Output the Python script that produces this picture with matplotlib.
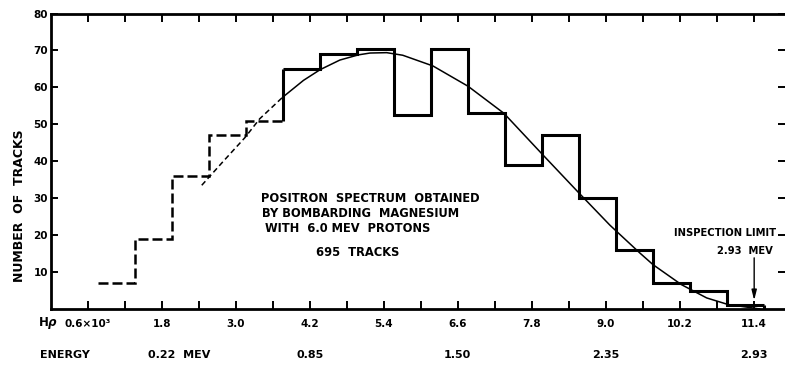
import matplotlib
matplotlib.use('Agg')
import matplotlib.pyplot as plt

# histogram of positron tracks, bins in H-rho (units of 10^3 gauss-cm)
bin_edges = [0.77, 1.37, 1.97, 2.57, 3.17, 3.77, 4.37, 4.97, 5.57, 6.17,
             6.77, 7.37, 7.97, 8.57, 9.17, 9.77, 10.37, 10.97, 11.57]
counts = [7, 19, 36, 47, 51, 65, 69, 70.5, 52.5, 70.5,
          53, 39, 47, 30, 16, 7, 5, 1.1]
n_dashed = 5  # first bins drawn dashed

# fitted curve
curve_dash_x = [2.45, 2.8, 3.15, 3.39, 3.76]
curve_dash_y = [33.5, 40.0, 46.4, 51.5, 57.3]
curve_x = [3.76, 4.1, 4.37, 4.69, 4.99, 5.18, 5.45, 5.71, 6.2, 6.77, 7.35,
           7.99, 8.58, 9.07, 9.56, 9.77, 10.23, 10.64, 10.99, 11.34, 11.5]
curve_y = [57.3, 61.9, 64.8, 67.4, 68.8, 69.3, 69.4, 68.7, 65.8, 60.3, 53.0,
           41.6, 31.2, 22.7, 15.1, 12.0, 6.6, 3.0, 1.2, 0.4, 0.0]

hr_ticks = [0.6, 1.2, 1.8, 2.4, 3.0, 3.6, 4.2, 4.8, 5.4, 6.0, 6.6, 7.2,
            7.8, 8.4, 9.0, 9.6, 10.2, 10.8, 11.4]
hr_labels = ['0.6×10³', '', '1.8', '', '3.0', '', '4.2', '', '5.4', '',
             '6.6', '', '7.8', '', '9.0', '', '10.2', '', '11.4']
energy_pos = [1.8, 4.2, 6.6, 9.0, 11.4]
energy_labels = ['0.22  MEV', '0.85', '1.50', '2.35', '2.93']
y_ticks = [10, 20, 30, 40, 50, 60, 70, 80]

note_lines = ['POSITRON  SPECTRUM  OBTAINED', 'BY BOMBARDING  MAGNESIUM',
              'WITH  6.0 MEV  PROTONS', '695  TRACKS']
limit_x = 11.41

plt.rcParams['font.family'] = ['DejaVu Sans']
plt.rcParams['font.weight'] = 'bold'

fig = plt.figure(figsize=(7.85, 3.66), dpi=100)
ax = fig.add_axes([0.0646, 0.1557, 0.9354, 0.8074])

# histogram: dashed part, then solid part
ax.stairs(counts[:n_dashed], bin_edges[:n_dashed + 1], baseline=None,
          color='k', lw=1.8, linestyle=(0, (4, 1.6)))
ax.stairs(counts[n_dashed:], bin_edges[n_dashed:], baseline=None,
          color='k', lw=2.2)
ax.vlines(bin_edges[n_dashed], counts[n_dashed - 1], counts[n_dashed],
          color='k', lw=2.2)
ax.vlines(bin_edges[-1], 0, counts[-1], color='k', lw=2.2)

# curve
ax.plot(curve_dash_x, curve_dash_y, color='k', lw=1.1, linestyle=(0, (3.5, 2.2)))
ax.plot(curve_x, curve_y, color='k', lw=1.1)

ax.set_xlim(0, 11.91)
ax.set_ylim(0, 80)
ax.set_xticks(hr_ticks)
ax.set_xticklabels(hr_labels, fontsize=7.5, fontweight='bold')
ax.set_yticks(y_ticks)
ax.set_yticklabels([str(v) for v in y_ticks], fontsize=7.5, fontweight='bold')
ax.tick_params(axis='x', direction='in', top=True, length=6, width=1.4, pad=7)
ax.tick_params(axis='y', direction='in', right=True, length=5, width=1.4, pad=2)
for s in ['left', 'bottom', 'top']:
    ax.spines[s].set_linewidth(2.0)
ax.spines['right'].set_visible(False)

ax.set_ylabel('NUMBER  OF  TRACKS', fontsize=9, fontweight='bold')
ax.yaxis.set_label_coords(-0.043, 0.349)
ax.yaxis.label.set_verticalalignment('center')

trans = ax.get_xaxis_transform()
ax.text(-0.21, -0.047, 'H$\\rho$', transform=trans, fontsize=8.5,
        fontweight='bold', ha='left', va='center')
ax.text(-0.17, -0.156, 'ENERGY', transform=trans, fontsize=8,
        fontweight='bold', ha='left', va='center')
for p, lab in zip(energy_pos, energy_labels):
    if 'MEV' in lab:
        ax.text(p - 0.23, -0.156, lab, transform=trans, fontsize=8,
                fontweight='bold', ha='left', va='center')
    else:
        ax.text(p, -0.156, lab, transform=trans, fontsize=8,
                fontweight='bold', ha='center', va='center')

note_x = [5.18, 5.03, 4.82, 4.98]
note_y = [29.9, 25.9, 21.8, 15.3]
for tx, ty, line in zip(note_x, note_y, note_lines):
    ax.text(tx, ty, line, fontsize=8.3, fontweight='bold', ha='center', va='center')

ax.text(11.76, 20.7, 'INSPECTION LIMIT', fontsize=7.2, fontweight='bold',
        ha='right', va='center')
ax.text(11.71, 15.8, '2.93  MEV', fontsize=7.2, fontweight='bold',
        ha='right', va='center')
ax.annotate('', xy=(limit_x, 1.6), xytext=(limit_x, 14.6),
            arrowprops=dict(arrowstyle='-|>,head_length=0.6,head_width=0.15',
                            color='k', lw=1.0))

fig.savefig('out.png', dpi=100)
